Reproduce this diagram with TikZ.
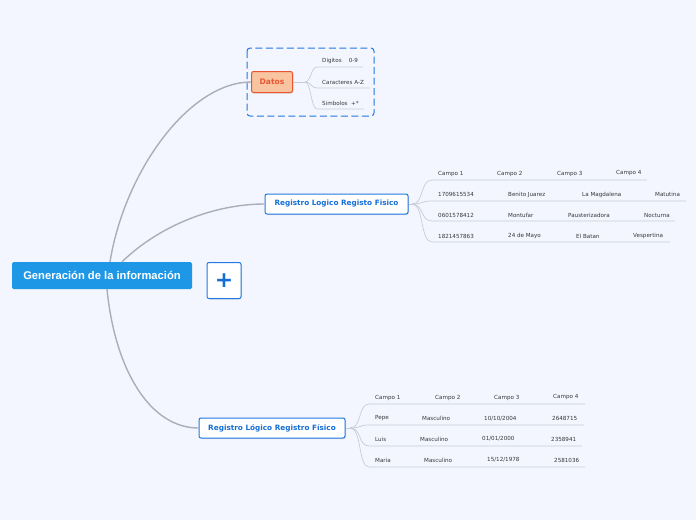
\documentclass[tikz,border=0pt]{standalone}
\usepackage{fontspec}
\setmainfont{DejaVu Sans}
\newfontfamily\wurzelfont{Liberation Sans}
\usetikzlibrary{shadows}
\definecolor{hinter}{RGB}{243,246,254}
\definecolor{wurzelblau}{RGB}{30,152,230}
\definecolor{randblau}{RGB}{35,120,225}
\definecolor{textblau}{RGB}{20,110,215}
\definecolor{linie}{RGB}{170,174,186}
\definecolor{unterlinie}{RGB}{200,204,212}
\definecolor{blatttext}{RGB}{55,55,60}
\definecolor{pfirsich}{RGB}{249,197,160}
\definecolor{orangerot}{RGB}{232,85,50}
\tikzset{
  zweig/.style={draw=linie, line width=1.4pt},
  gabel/.style={draw=unterlinie, line width=0.7pt},
  blatt/.style={anchor=west, inner sep=0pt, text=blatttext, font=\fontsize{5.6}{6}\selectfont},
  thema/.style={draw=randblau, fill=white, rounded corners=2pt, line width=1pt,
    text=textblau, font=\bfseries\fontsize{7.3}{8}\selectfont, minimum height=20pt,
    inner sep=0pt, drop shadow={opacity=0.25, shadow xshift=0.8pt, shadow yshift=-1pt}},
}
\begin{document}
\begin{tikzpicture}[x=1pt,y=-1pt]
    % Rahmen
    \fill[hinter] (0,0) rectangle (696,520);
    \useasboundingbox (0,0) rectangle (696,520);

    % Hauptknoten
    \node[fill=wurzelblau, rounded corners=1.5pt, minimum width=180pt, minimum height=27pt,
      text=white, font=\wurzelfont\bfseries\fontsize{11.2}{12}\selectfont] (wurzel) at (102,275.5) {Generación de la información};
    \node[draw=randblau, fill=white, rounded corners=2pt, line width=1pt, minimum width=34pt,
      minimum height=36pt, inner sep=0pt, text=textblau, font=\bfseries\fontsize{22}{22}\selectfont,
      drop shadow={opacity=0.25, shadow xshift=0.8pt, shadow yshift=-1pt}] (plus) at (224,280.5) {+};

    % Datos
    \draw[randblau, dash pattern=on 7pt off 3.5pt, line width=1pt, rounded corners=3pt] (247,48) rectangle (374,116);
    \node[draw=orangerot, fill=pfirsich, rounded corners=2pt, line width=1pt, minimum width=41pt,
      minimum height=21pt, inner sep=0pt, text=orangerot, font=\bfseries\fontsize{7.6}{8}\selectfont,
      drop shadow={opacity=0.25, shadow xshift=0.8pt, shadow yshift=-1pt}] (datos) at (272,82) {Datos};
    \node[thema, minimum width=143pt] (reg1) at (336.5,204) {Registro Logico Registo Fisico};
    \node[thema, minimum width=146pt] (reg2) at (272,428) {Registro Lógico Registro Físico};

    % Aeste
    \draw[zweig] ([xshift=8pt]wurzel.north) .. controls (125,170) and (190,82) .. (datos.west);
    \draw[zweig] ([xshift=20pt]wurzel.north) .. controls (160,225) and (215,204) .. (reg1.west);
    \draw[zweig] ([xshift=5pt]wurzel.south) .. controls (115,370) and (150,428) .. (reg2.west);

    % Datos Blaetter
    \coordinate (dg) at (305,82);
    \draw[gabel] (datos.east) -- (dg);
    \foreach \y/\e/\t [count=\i] in {67/363/{Digitos \ \ \ 0-9}, 88/370/{Caracteres A-Z}, 109/364/{Simbolos \ +*}}{
      \coordinate (da\i) at (317,\y);
      \coordinate (de\i) at (\e,\y);
      \node[blatt] (dt\i) at (322,\y-6) {\t};
      \draw[gabel] (dg) .. controls (311,82) and (311,\y) .. (da\i) -- (de\i);
    }

    % Registro 1
    \coordinate (g1) at (412,204);
    \draw[gabel] (reg1.east) -- (g1);
    \foreach \y/\e [count=\i] in {180/647, 201/686, 221/675, 242/670}{
      \coordinate (ra\i) at (432,\y);
      \coordinate (re\i) at (\e,\y);
      \draw[gabel] (g1) .. controls (424,204) and (420,\y) .. (ra\i) -- (re\i);
    }
    \node[blatt] (a11) at (438,174) {Campo 1};
    \node[blatt] (a12) at (497,174) {Campo 2};
    \node[blatt] (a13) at (557,174) {Campo 3};
    \node[blatt] (a14) at (616,172.5) {Campo 4};
    \node[blatt] (a21) at (438,194.5) {1709615534};
    \node[blatt] (a22) at (508,194.5) {Benito Juarez};
    \node[blatt] (a23) at (582,194.5) {La Magdalena};
    \node[blatt] (a24) at (655,194.5) {Matutina};
    \node[blatt] (a31) at (438,215) {0601578412};
    \node[blatt] (a32) at (508,215) {Montufar};
    \node[blatt] (a33) at (568,215) {Pausterizadora};
    \node[blatt] (a34) at (644,215) {Nocturna};
    \node[blatt] (a41) at (438,236) {1821457863};
    \node[blatt] (a42) at (508,236) {24 de Mayo};
    \node[blatt] (a43) at (576,236) {El Batan};
    \node[blatt] (a44) at (633,236) {Vespertina};

    % Registro 2
    \coordinate (g2) at (350,428);
    \draw[gabel] (reg2.east) -- (g2);
    \foreach \y/\e [count=\i] in {404/585, 425/584, 446/582, 467/585}{
      \coordinate (sa\i) at (369,\y);
      \coordinate (se\i) at (\e,\y);
      \draw[gabel] (g2) .. controls (362,428) and (358,\y) .. (sa\i) -- (se\i);
    }
    \node[blatt] (b11) at (375,398) {Campo 1};
    \node[blatt] (b12) at (435,398) {Campo 2};
    \node[blatt] (b13) at (494,398) {Campo 3};
    \node[blatt] (b14) at (553,396.5) {Campo 4};
    \node[blatt] (b21) at (375,418.5) {Pepe};
    \node[blatt] (b22) at (422,418.5) {Masculino};
    \node[blatt] (b23) at (484,418.5) {10/10/2004};
    \node[blatt] (b24) at (552,418.5) {2648715};
    \node[blatt] (b31) at (375,439) {Luis};
    \node[blatt] (b32) at (420,439) {Masculino};
    \node[blatt] (b33) at (482,439) {01/01/2000};
    \node[blatt] (b34) at (551,439) {2358941};
    \node[blatt] (b41) at (375,460) {Maria};
    \node[blatt] (b42) at (424,460) {Masculino};
    \node[blatt] (b43) at (487,460) {15/12/1978};
    \node[blatt] (b44) at (554,460) {2581036};
\end{tikzpicture}
\end{document}
